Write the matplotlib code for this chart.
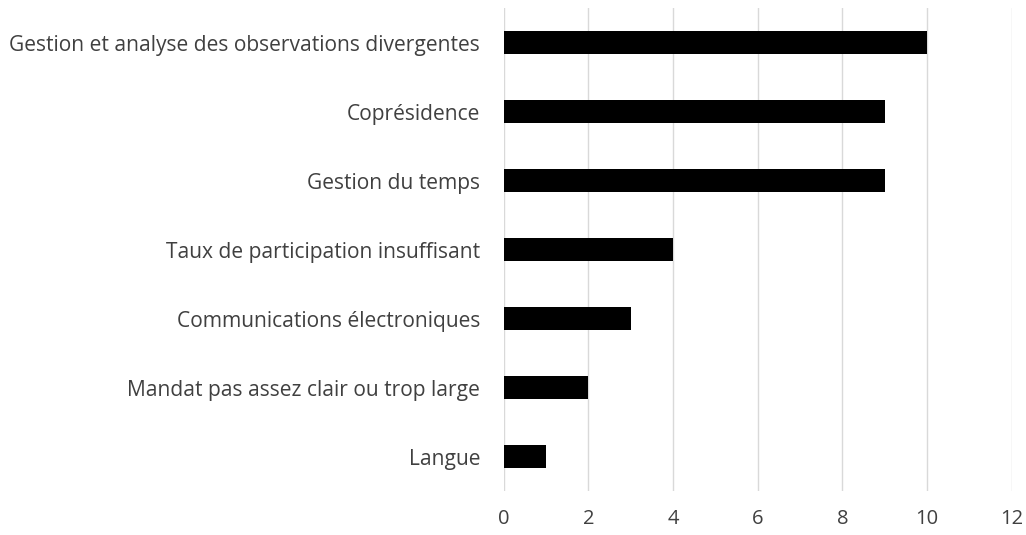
import matplotlib
matplotlib.use("Agg")
import matplotlib.pyplot as plt

categories = ["Gestion et analyse des observations divergentes", "Coprésidence",
              "Gestion du temps", "Taux de participation insuffisant",
              "Communications électroniques", "Mandat pas assez clair ou trop large",
              "Langue"]
values = [10, 9, 9, 4, 3, 2, 1]
xticks = [0, 2, 4, 6, 8, 10, 12]

plt.rcParams['font.family'] = ['Open Sans', 'DejaVu Sans']

fig = plt.figure(figsize=(10.26, 5.35), dpi=100)
ax = fig.add_axes([0.491, 0.082, 0.495, 0.903])

pos = list(range(len(categories)))[::-1]
ax.barh(pos, values, height=0.34, color="black", zorder=3)
ax.set_yticks(pos)
ax.set_yticklabels(categories, fontsize=15.1, color="#404040")
ax.set_xlim(0, 12)
ax.set_ylim(-0.5, len(categories) - 0.5)
ax.set_xticks(xticks)
ax.set_xticklabels([str(t) for t in xticks], fontsize=14.5, color="#404040")
ax.grid(axis="x", color="#d9d9d9", linewidth=1, zorder=0)
for s in ax.spines.values():
    s.set_visible(False)
ax.tick_params(axis="x", length=0, pad=13)
ax.tick_params(axis="y", length=0, pad=17)

fig.savefig("out.png", dpi=100)
